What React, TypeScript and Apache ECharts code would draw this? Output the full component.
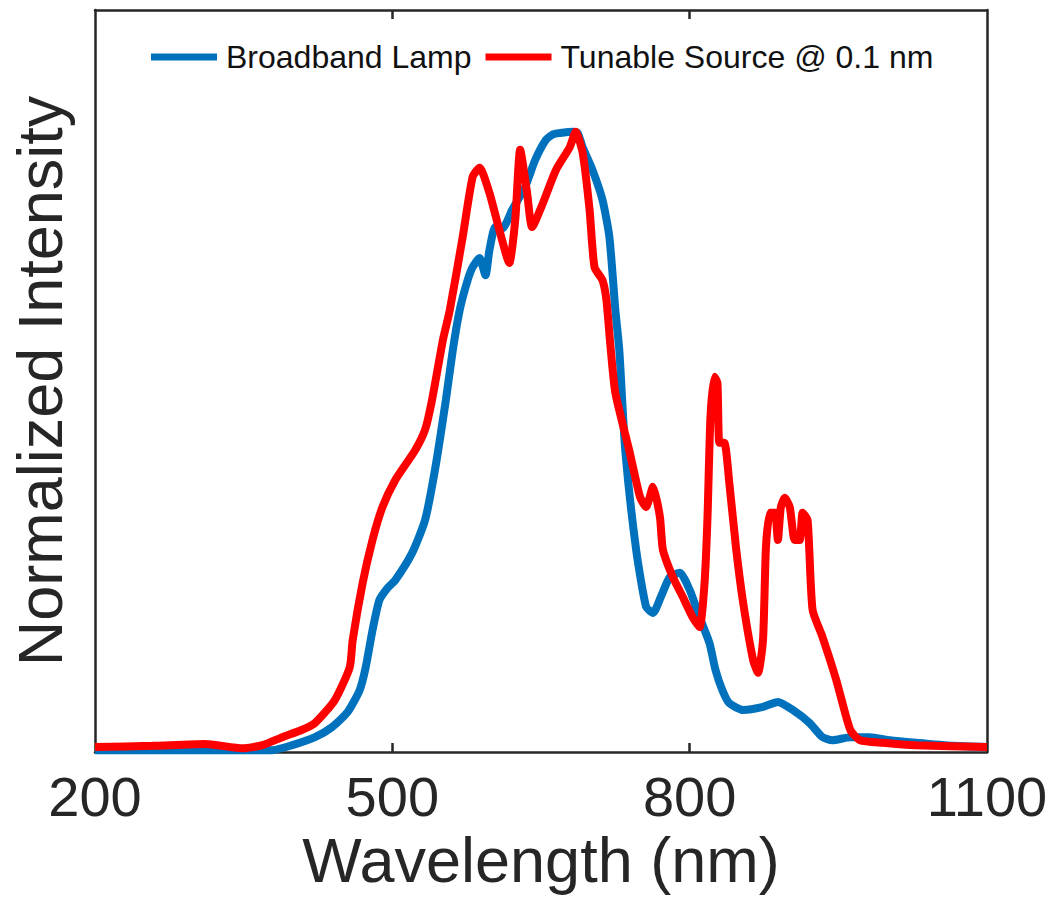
import React, { useEffect, useRef } from "react";
import * as echarts from "echarts";

// Broadband lamp spectrum (wavelength nm, normalized intensity)
const blueWavelengths = [
  200, 308, 379, 399, 422, 439, 455, 467, 473, 480, 487, 495, 503, 520, 533, 543,
  554, 561, 568, 576, 581, 588, 594, 598, 604, 611, 621, 634, 644, 655, 662, 669,
  682, 687, 692, 702, 712, 719, 725, 729, 735, 746, 756, 763, 771, 780, 790, 800,
  810, 820, 826, 833, 840, 854, 874, 889, 904, 921, 934, 944, 962, 982, 1002, 1028,
  1066, 1100,
];
const blueValues = [
  0.003, 0.003, 0.003, 0.011, 0.024, 0.04, 0.065, 0.1, 0.136, 0.197, 0.246, 0.265,
  0.278, 0.322, 0.375, 0.456, 0.569, 0.65, 0.715, 0.763, 0.784, 0.799, 0.771, 0.812,
  0.849, 0.847, 0.877, 0.914, 0.957, 0.99, 0.999, 1.001, 1.003, 1.001, 0.978, 0.941,
  0.893, 0.833, 0.715, 0.65, 0.488, 0.327, 0.235, 0.225, 0.251, 0.283, 0.29, 0.262,
  0.218, 0.176, 0.133, 0.1, 0.079, 0.068, 0.073, 0.081, 0.068, 0.047, 0.024, 0.019,
  0.024, 0.024, 0.019, 0.015, 0.01, 0.008,
];

// Tunable source @ 0.1 nm
const redWavelengths = [
  200, 258, 311, 349, 369, 389, 409, 422, 442, 457, 460, 470, 480, 490, 503, 523,
  533, 540, 551, 558, 571, 581, 588, 598, 608, 618, 624, 629, 636, 641, 652, 665,
  679, 685, 692, 699, 704, 712, 716, 720, 725, 739, 750, 756, 763, 770, 773, 783,
  793, 803, 810, 815, 818, 821, 825, 828, 830, 835, 840, 847, 854, 864, 869, 874,
  877, 881, 886, 889, 892, 896, 901, 906, 911, 914, 919, 924, 934, 948, 962, 972,
  995, 1028, 1100,
];
const redValues = [
  0.008, 0.01, 0.013, 0.006, 0.011, 0.024, 0.036, 0.047, 0.084, 0.137, 0.181, 0.273,
  0.343, 0.396, 0.44, 0.488, 0.521, 0.569, 0.666, 0.715, 0.833, 0.93, 0.945, 0.904,
  0.844, 0.791, 0.86, 0.974, 0.904, 0.849, 0.888, 0.941, 0.978, 1.003, 0.969, 0.877,
  0.784, 0.763, 0.731, 0.658, 0.581, 0.488, 0.412, 0.396, 0.429, 0.38, 0.327, 0.283,
  0.251, 0.218, 0.202, 0.273, 0.38, 0.542, 0.607, 0.597, 0.5, 0.5, 0.435, 0.327,
  0.241, 0.149, 0.128, 0.181, 0.332, 0.387, 0.387, 0.343, 0.396, 0.411, 0.396, 0.343,
  0.343, 0.387, 0.375, 0.23, 0.186, 0.116, 0.036, 0.019, 0.015, 0.011, 0.008,
];

const seriesNames = ["Broadband Lamp", "Tunable Source @ 0.1 nm"];
const xTickLabels = [200, 500, 800, 1100];
const xInnerTicks = [500, 800];

export default function App() {
  const ref = useRef<HTMLDivElement>(null);
  useEffect(() => {
    if (!ref.current) return;
    const chart = echarts.init(ref.current, null, { renderer: "svg" });
    const font = "'Liberation Sans', Arial, Helvetica, sans-serif";
    const frame = "#262626";
    const blueData = blueWavelengths.map((w, i) => [w, blueValues[i]]);
    const redData = redWavelengths.map((w, i) => [w, redValues[i]]);
    const frameLine = { show: true, onZero: false, lineStyle: { color: frame, width: 2.5 } };
    chart.setOption({
      animation: false,
      backgroundColor: "#ffffff",
      textStyle: { fontFamily: font },
      grid: { left: 93, right: 65, top: 10, bottom: 169, containLabel: false },
      legend: {
        top: 36,
        left: 146,
        icon: "rect",
        itemWidth: 66,
        itemHeight: 7,
        itemGap: 14,
        textStyle: {
          fontSize: 32,
          color: "#111",
          fontFamily: font,
          padding: [0, 0, 0, 4],
        },
        data: seriesNames,
      },
      xAxis: [
        {
          type: "value",
          min: 200,
          max: 1100,
          position: "bottom",
          name: "Wavelength (nm)",
          nameLocation: "middle",
          nameGap: 72,
          nameTextStyle: { fontSize: 63, color: "#262626", fontFamily: font },
          axisLine: frameLine,
          axisTick: {
            show: true,
            inside: true,
            length: 9,
            customValues: xInnerTicks,
            lineStyle: { color: frame, width: 2.5 },
          },
          axisLabel: {
            show: true,
            customValues: xTickLabels,
            formatter: (v: number) => String(v),
            fontSize: 56,
            color: "#262626",
            margin: 16,
            fontFamily: font,
          },
          splitLine: { show: false },
        },
        {
          type: "value",
          min: 200,
          max: 1100,
          position: "top",
          axisLine: frameLine,
          axisTick: {
            show: true,
            inside: true,
            length: 9,
            customValues: xInnerTicks,
            lineStyle: { color: frame, width: 2.5 },
          },
          axisLabel: { show: false },
          splitLine: { show: false },
        },
      ],
      yAxis: [
        {
          type: "value",
          min: 0,
          max: 1.2,
          position: "left",
          name: "Normalized Intensity",
          nameLocation: "middle",
          nameRotate: 90,
          nameGap: 24,
          nameTextStyle: { fontSize: 63, color: "#262626", fontFamily: font },
          axisLine: frameLine,
          axisTick: { show: false },
          axisLabel: { show: false },
          splitLine: { show: false },
        },
        {
          type: "value",
          min: 0,
          max: 1.2,
          position: "right",
          axisLine: frameLine,
          axisTick: { show: false },
          axisLabel: { show: false },
          splitLine: { show: false },
        },
      ],
      series: [
        {
          name: seriesNames[0],
          type: "line",
          data: blueData,
          showSymbol: false,
          smooth: 0.2,
          lineStyle: { color: "#0072BD", width: 8 },
          itemStyle: { color: "#0072BD" },
          z: 2,
        },
        {
          name: seriesNames[1],
          type: "line",
          data: redData,
          showSymbol: false,
          smooth: 0.2,
          lineStyle: { color: "#FF0000", width: 8 },
          itemStyle: { color: "#FF0000" },
          z: 3,
        },
      ],
    });
    return () => chart.dispose();
  }, []);
  return (
    <div
      ref={ref}
      style={{ position: "absolute", left: 0, top: 0, width: 1052, height: 921 }}
    />
  );
}
